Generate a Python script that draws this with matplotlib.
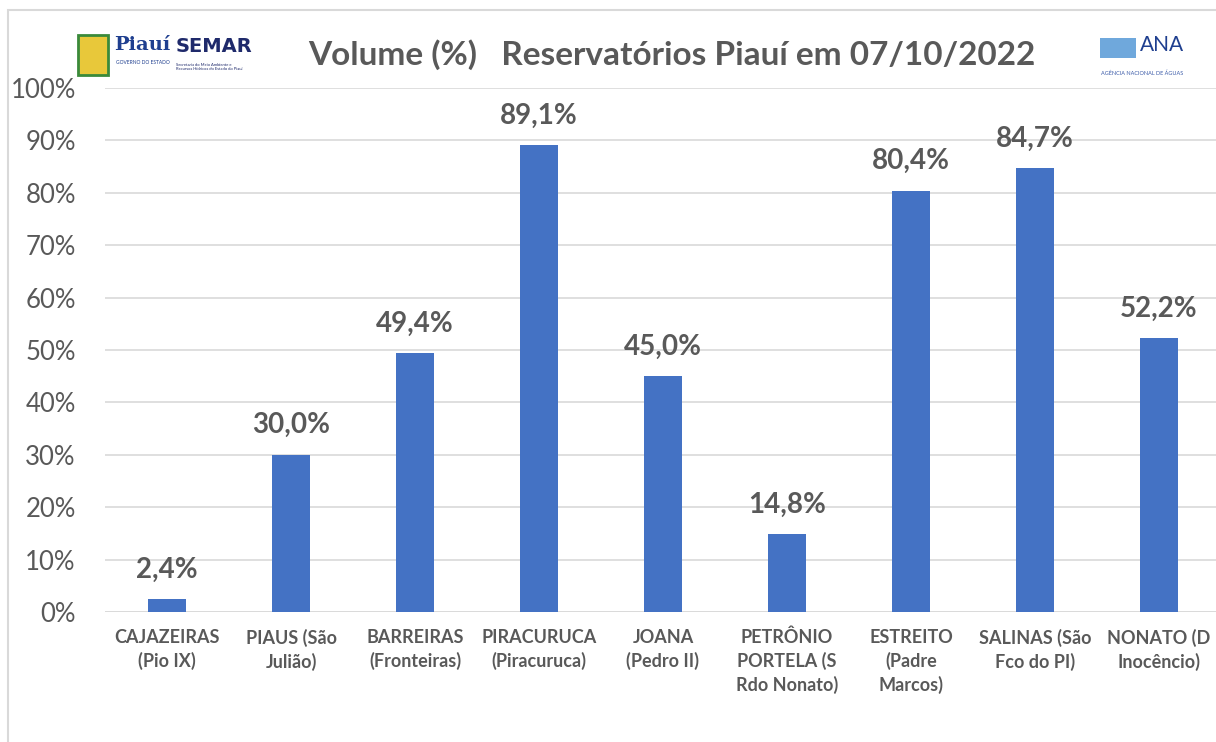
import matplotlib.pyplot as plt
from matplotlib.patches import Rectangle

plt.rcParams['font.family'] = ['Lato', 'DejaVu Sans']

reservatorios = ['CAJAZEIRAS\n(Pio IX)', 'PIAUS (São\nJulião)', 'BARREIRAS\n(Fronteiras)',
                 'PIRACURUCA\n(Piracuruca)', 'JOANA\n(Pedro II)', 'PETRÔNIO\nPORTELA (S\nRdo Nonato)',
                 'ESTREITO\n(Padre\nMarcos)', 'SALINAS (São\nFco do PI)', 'NONATO (D\nInocêncio)']
volume = [2.4, 30.0, 49.4, 89.1, 45.0, 14.8, 80.4, 84.7, 52.2]
yticks = [0, 10, 20, 30, 40, 50, 60, 70, 80, 90, 100]

blue = '#4472C4'
gray = '#595959'

fig = plt.figure(figsize=(12.16, 7.42), dpi=100)
# chart border (image is cropped, only top and left edges show)
fig.patches.append(Rectangle((8 / 1216, -0.1), 2, 1.1 - 10 / 742, transform=fig.transFigure,
                             fill=False, edgecolor='#D9D9D9', linewidth=1.5))

ax = fig.add_axes([105 / 1216, 130 / 742, 1116 / 1216, 524 / 742])
x = range(len(volume))
bars = ax.bar(x, volume, width=0.31, color=blue, zorder=3)
ax.set_xlim(-0.5, len(volume) - 0.5)
ax.set_ylim(0, 100)
ax.set_yticks(yticks)
ax.set_yticklabels([f'{t}%' for t in yticks], fontsize=18.5, color=gray)
ax.set_xticks(list(x))
ax.set_xticklabels(reservatorios, fontsize=13, fontweight='bold', color=gray,
                   linespacing=1.4, va='top')
ax.tick_params(length=0)
ax.tick_params(axis='y', pad=21)
ax.tick_params(axis='x', pad=12)
ax.grid(axis='y', color='#D9D9D9', linewidth=1.2, zorder=0)
for s in ax.spines.values():
    s.set_visible(False)
ax.axhline(0, color='#D9D9D9', linewidth=1.2, zorder=2)

for b, v in zip(bars, volume):
    ax.annotate(f'{v:.1f}%'.replace('.', ','), (b.get_x() + b.get_width() / 2, v),
                xytext=(0, 12), textcoords='offset points', ha='center', va='bottom',
                fontsize=20, fontweight='bold', color=gray)

fig.text(672 / 1216, 1 - 55 / 742, 'Volume (%)   Reservatórios Piauí em 07/10/2022',
         ha='center', va='center', fontsize=24, fontweight='bold', color=gray)

# logos (text approximations)
fig.text(114 / 1216, 1 - 45 / 742, 'Piauí', fontsize=14, fontweight='bold', color='#1F3F8F',
         family='DejaVu Serif', ha='left', va='center')
fig.text(116 / 1216, 1 - 62 / 742, 'GOVERNO DO ESTADO', fontsize=3.5, color='#1F3F8F',
         ha='left', va='center')
fig.text(176 / 1216, 1 - 47 / 742, 'SEMAR', fontsize=14, fontweight='bold', color='#1F2A6B',
         ha='left', va='center', family='Liberation Sans Narrow')
fig.text(176 / 1216, 1 - 67 / 742, 'Secretaria do Meio Ambiente e\nRecursos Hídricos do Estado do Piauí',
         fontsize=3, color='#1F2A6B', ha='left', va='center')
fig.patches.append(Rectangle((78 / 1216, 1 - 75 / 742), 30 / 1216, 40 / 742, transform=fig.transFigure,
                             facecolor='#E8C83A', edgecolor='#3A8A3A', linewidth=2))
fig.text(1140 / 1216, 1 - 45 / 742, 'ANA', fontsize=15, color='#1F3F8F', ha='left', va='center')
fig.text(1142 / 1216, 1 - 73 / 742, 'AGÊNCIA NACIONAL DE ÁGUAS', fontsize=4, color='#3A5AA8',
         ha='center', va='center')
fig.patches.append(Rectangle((1100 / 1216, 1 - 58 / 742), 36 / 1216, 20 / 742, transform=fig.transFigure,
                             facecolor='#6FA8DC', edgecolor='none'))

fig.savefig('out.png', dpi=100)
